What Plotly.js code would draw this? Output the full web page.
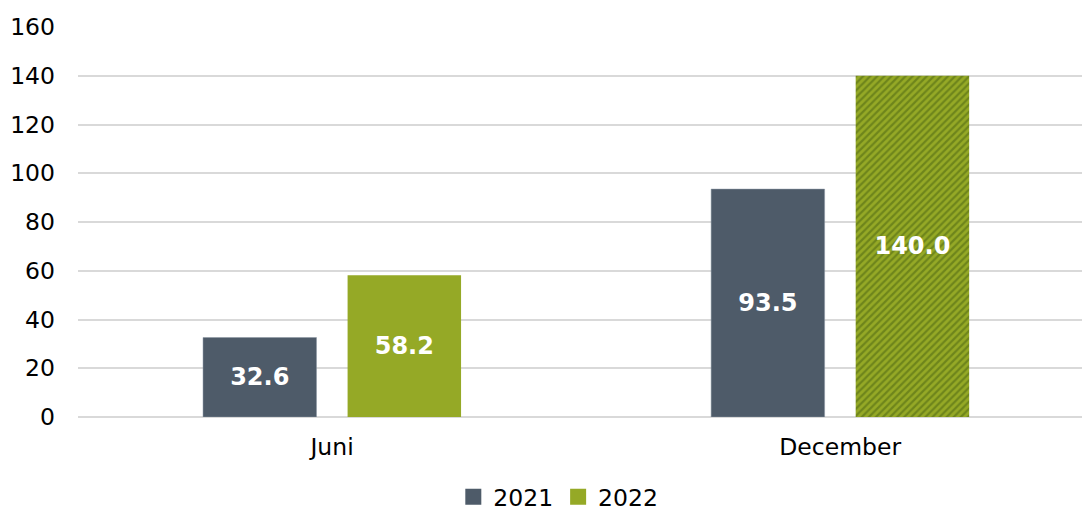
<!DOCTYPE html>
<html>
<head>
<meta charset="utf-8">
<script src="https://cdn.plot.ly/plotly-3.0.1.min.js"></script>
<style>html,body{margin:0;padding:0;background:#fff;}#chart{width:1082px;height:513px;}</style>
</head>
<body>
<div id="chart"></div>
<script>
const categories = ["Juni", "December"];
const values2021 = [32.6, 93.5];
const values2022 = [58.2, 140.0];
const seriesNames = ["2021", "2022"];
const yTicks = [0, 20, 40, 60, 80, 100, 120, 140, 160];
const colors = ["#4e5b69", "#95a926"];

const fontFamily = "DejaVu Sans, Verdana, sans-serif";
const labelFont = {family: fontFamily, size: 24, color: "#ffffff", weight: "bold"};

const traces = [
  {
    type: "bar", name: seriesNames[0], x: categories, y: values2021, showlegend: false,
    marker: {color: colors[0], line: {color: "#8a96a3", width: 0.5}},
    text: values2021.map(v => v.toFixed(1)), textposition: "inside", insidetextanchor: "middle",
    textfont: labelFont, hoverinfo: "skip"
  },
  {
    type: "bar", name: seriesNames[1], x: categories, y: values2022, showlegend: false,
    marker: {color: colors[1],
      pattern: {shape: ["", "/"], fgcolor: "#6e851b", bgcolor: colors[1], size: 5, solidity: 0.45}},
    text: values2022.map(v => v.toFixed(1)), textposition: "inside", insidetextanchor: "middle",
    textfont: labelFont, hoverinfo: "skip"
  },
  {type: "scatter", mode: "markers", name: seriesNames[0], x: [null], y: [null],
    marker: {symbol: "square", size: 16, color: colors[0]}, hoverinfo: "skip"},
  {type: "scatter", mode: "markers", name: seriesNames[1], x: [null], y: [null],
    marker: {symbol: "square", size: 16, color: colors[1]}, hoverinfo: "skip"}
];

const layout = {
  width: 1082, height: 513,
  margin: {l: 78, r: 0, t: 27, b: 96},
  paper_bgcolor: "#ffffff", plot_bgcolor: "#ffffff",
  font: {family: fontFamily, size: 23.5, color: "#000000"},
  barmode: "group", bargap: 0.431, bargroupgap: 0.215,
  showlegend: true,
  legend: {orientation: "h", xref: "container", yref: "container", x: 0.516, y: 0.031,
    xanchor: "center", yanchor: "middle", font: {family: fontFamily, size: 23.5, color: "#000"},
    itemwidth: 30, traceorder: "normal", tracegroupgap: 0, borderwidth: 0},
  xaxis: {type: "category", range: [-0.5, 1.476], showgrid: false, zeroline: false,
    showline: false, ticks: "", ticklabelstandoff: 13, tickfont: {family: fontFamily, size: 23.5}},
  yaxis: {range: [0, 160], tickvals: yTicks, ticktext: yTicks.map(String), showgrid: true,
    gridcolor: "#d9d9d9", gridwidth: 2, zeroline: true, zerolinecolor: "#d9d9d9", zerolinewidth: 2,
    showline: false, ticks: "", ticklabelstandoff: 22, tickfont: {family: fontFamily, size: 23.5}}
};

Plotly.newPlot("chart", traces, layout, {staticPlot: true, displayModeBar: false});
</script>
</body>
</html>
